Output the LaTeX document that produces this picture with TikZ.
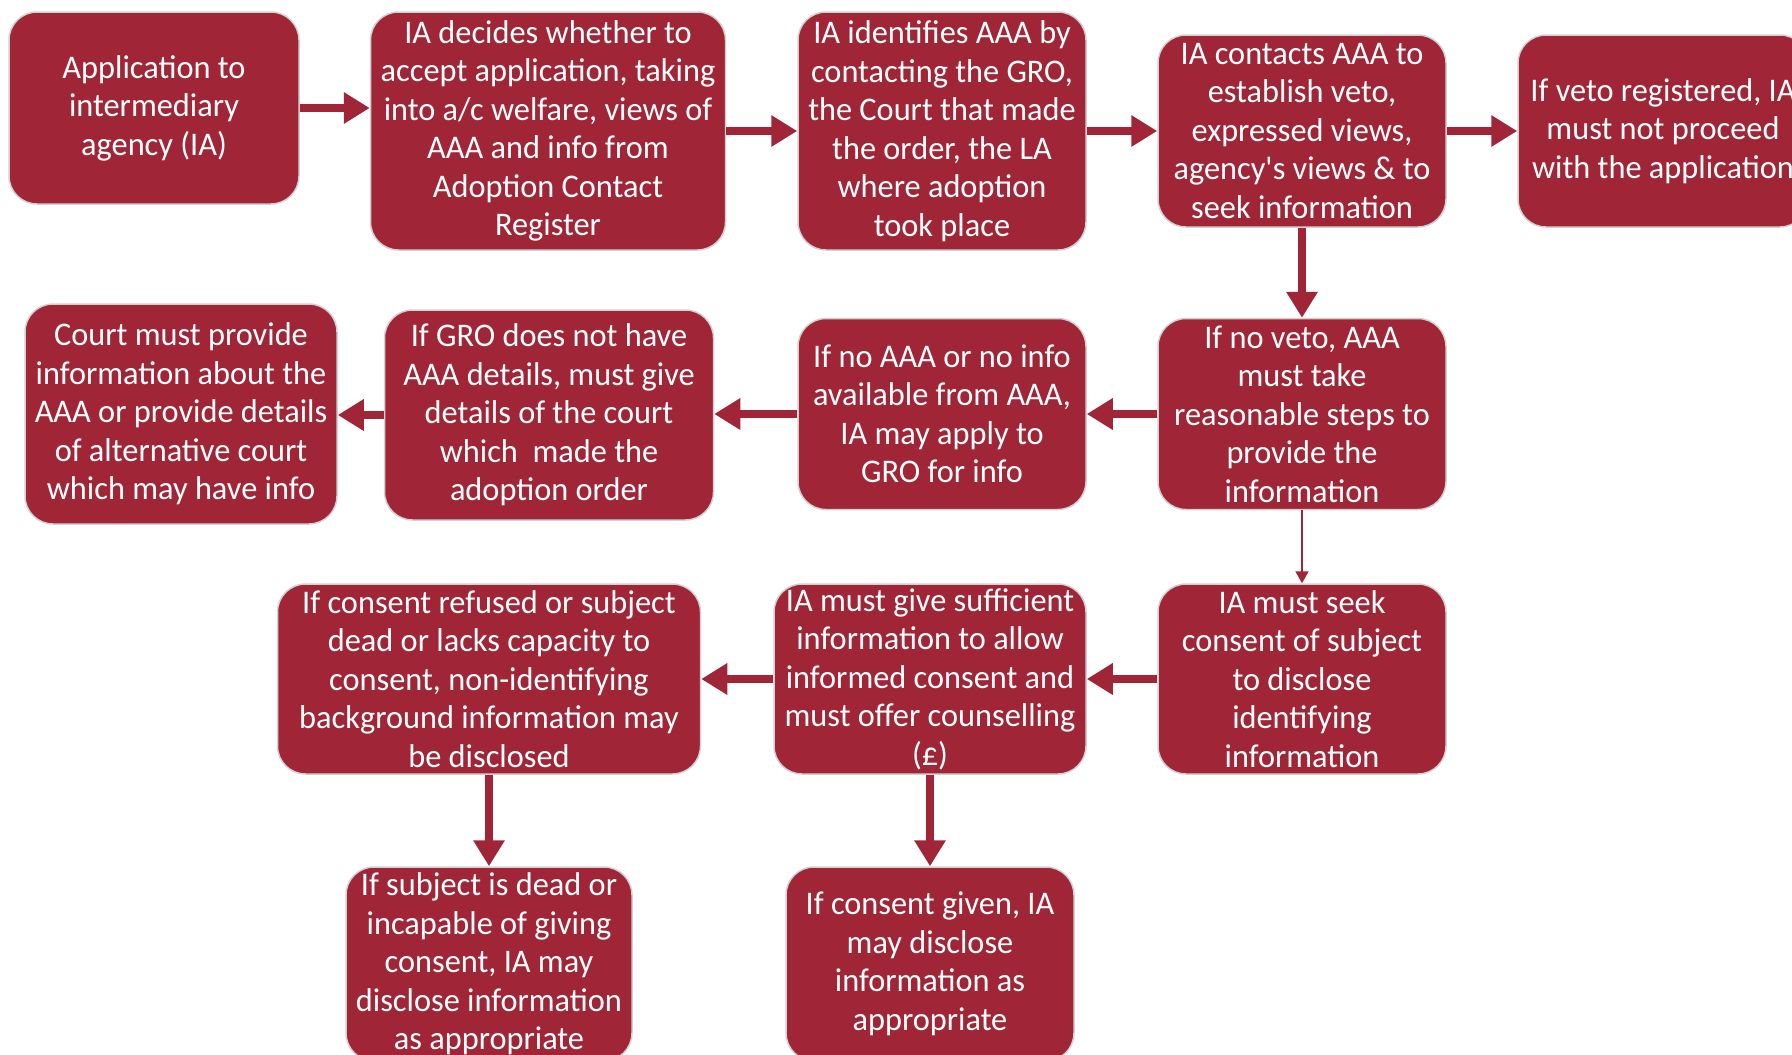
\documentclass[tikz,border=0pt]{standalone}
\usepackage{fontspec}
\setmainfont[FakeStretch=0.98]{Carlito}
\usetikzlibrary{arrows.meta}
\definecolor{boxred}{HTML}{A02637}

\begin{document}
\begin{tikzpicture}[x=1pt, y=-1pt,
  stepbox/.style={draw=black!18, line width=1.5pt, fill=boxred, text=white,
    rounded corners=28pt, align=center, inner sep=0pt,
    font=\fontsize{33}{38.5}\selectfont},
  flow/.style={draw=boxred, line width=8pt, -{Triangle[length=26pt, width=30pt]}},
  thinflow/.style={draw=boxred, line width=2pt, -{Triangle[length=12pt, width=13pt]}}]
\useasboundingbox (0,0) rectangle (1792,1055);
\clip (0,0) rectangle (1792,1055);
\def\w{288}
% first row
\node [stepbox, minimum width=290pt, minimum height=192pt] (app) at (154,108) {Application to\\intermediary\\agency (IA)};
\node [stepbox, minimum width=355pt, minimum height=238pt] (decide) at (548,131) {IA decides whether to\\accept application, taking\\into a/c welfare, views of\\AAA and info from\\Adoption Contact\\Register};
\node [stepbox, minimum width=\w pt, minimum height=238pt] (identify) at (942,131) {IA identifies AAA by\\contacting the GRO,\\the Court that made\\the order, the LA\\where adoption\\took place};
\node [stepbox, minimum width=\w pt, minimum height=192pt] (contact) at (1302,131) {IA contacts AAA to\\establish veto,\\expressed views,\\agency\textquotesingle s views \& to\\seek information};
\node [stepbox, minimum width=290pt, minimum height=192pt] (veto) at (1663,131) {If veto registered, IA\\must not proceed\\with the application};
% second row
\node [stepbox, minimum width=312pt, minimum height=220pt] (court) at (181,414) {Court must provide\\information about the\\AAA or provide details\\of alternative court\\which may have info};
\node [stepbox, minimum width=329pt, minimum height=210pt] (gro) at (549,415) {If GRO does not have\\AAA details, must give\\details of the court\\which\ \ made the\\adoption order};
\node [stepbox, minimum width=\w pt, minimum height=191pt] (noinfo) at (942,414) {If no AAA or no info\\available from AAA,\\IA may apply to\\GRO for info};
\node [stepbox, minimum width=\w pt, minimum height=191pt] (noveto) at (1302,414) {If no veto, AAA\\must take\\reasonable steps to\\provide the\\information};
% third row
\node [stepbox, minimum width=423pt, minimum height=190pt] (refused) at (489,679) {If consent refused or subject\\dead or lacks capacity to\\consent, non-identifying\\background information may\\be disclosed};
\node [stepbox, minimum width=312pt, minimum height=190pt] (sufficient) at (930,679) {IA must give sufficient\\information to allow\\informed consent and\\must offer counselling\\(£)};
\node [stepbox, minimum width=\w pt, minimum height=190pt] (seek) at (1302,679) {IA must seek\\consent of subject\\to disclose\\identifying\\information};
% last row
\node [stepbox, minimum width=286pt, minimum height=194pt] (dead) at (489,964) {If subject is dead or\\incapable of giving\\consent, IA may\\disclose information\\as appropriate};
\node [stepbox, minimum width=\w pt, minimum height=194pt] (given) at (930,964) {If consent given, IA\\may disclose\\information as\\appropriate};
% connectors
\path [flow] (app) -- (app -| decide.west);
\path [flow] (decide) -- (identify);
\path [flow] (identify) -- (contact);
\path [flow] (contact) -- (veto);
\path [flow] (contact) -- (noveto);
\path [flow] (noveto) -- (noinfo);
\path [flow] (noinfo) -- (noinfo -| gro.east);
\path [flow] (gro) -- (gro -| court.east);
\path [thinflow] (noveto) -- (seek);
\path [flow] (seek) -- (sufficient);
\path [flow] (sufficient) -- (refused);
\path [flow] (refused) -- (refused |- dead.north);
\path [flow] (sufficient) -- (given);
\end{tikzpicture}
\end{document}
